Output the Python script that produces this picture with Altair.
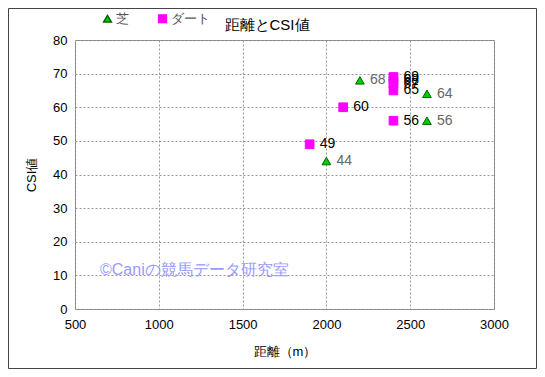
import altair as alt
import pandas as pd

turf_x = [2200, 2600, 2600, 2000]
turf_y = [68, 64, 56, 44]
dirt_x = [2400, 2400, 2400, 2400, 2400, 2100, 1900]
dirt_y = [69, 68, 67, 65, 56, 60, 49]
types = ["芝", "ダート"]

rows = [{"dist": x, "csi": y, "type": "芝"} for x, y in zip(turf_x, turf_y)]
rows += [{"dist": x, "csi": y, "type": "ダート"} for x, y in zip(dirt_x, dirt_y)]
df = pd.DataFrame(rows)

W, H = 419, 269
PL, PT, PR, PB = 67, 32, 43, 60
FONT = "Liberation Sans"

x_enc = alt.X("dist:Q", title="距離（m）",
              scale=alt.Scale(domain=[500, 3000], nice=False, zero=False),
              axis=alt.Axis(values=[500, 1000, 1500, 2000, 2500, 3000], format="d",
                            labelPadding=9, titlePadding=14, labelFlush=False))
y_enc = alt.Y("csi:Q", title="CSI値",
              scale=alt.Scale(domain=[0, 80], nice=False),
              axis=alt.Axis(values=list(range(0, 81, 10)), labelPadding=8,
                            titlePadding=14, labelFlush=False))

points = alt.Chart(df).mark_point(filled=True, size=75, strokeWidth=1, opacity=1).encode(
    x=x_enc, y=y_enc,
    shape=alt.Shape("type:N", scale=alt.Scale(domain=types, range=["triangle-up", "square"]),
                    legend=alt.Legend(title=None, orient="none", legendX=26, legendY=-28,
                                      direction="horizontal", labelFontSize=13,
                                      labelColor="#555555", symbolSize=60,
                                      columnPadding=26, labelOffset=2,
                                      labelFont=FONT, symbolOffset=0)),
    fill=alt.Fill("type:N", scale=alt.Scale(domain=types, range=["#00CC00", "#FF00FF"]),
                  legend=None),
    stroke=alt.Stroke("type:N", scale=alt.Scale(domain=types, range=["#006600", "#FF00FF"]),
                      legend=None),
)

labels = alt.Chart(df).mark_text(align="left", baseline="middle", dx=10, fontSize=14,
                                 font=FONT).encode(
    x=x_enc, y=y_enc, text="csi:Q",
    color=alt.Color("type:N", scale=alt.Scale(domain=types, range=["#666666", "#000000"]),
                    legend=None),
)

title = alt.Chart(pd.DataFrame({"t": ["距離とCSI値"]})).mark_text(
    fontSize=15, font=FONT, color="#000000", align="center", baseline="middle").encode(
    x=alt.value(192), y=alt.value(-15), text="t:N")

wm = alt.Chart(pd.DataFrame({"t": ["©Caniの競馬データ研究室"]})).mark_text(
    fontSize=16, font=FONT, color="#9999FF", align="left", baseline="middle").encode(
    x=alt.value(25), y=alt.value(230), text="t:N")

frame = alt.Chart(pd.DataFrame({"a": [0]})).mark_rect(
    fill=None, stroke="#444444", strokeWidth=1).encode(
    x=alt.value(-PL + 0.5), x2=alt.value(W + PR - 0.5),
    y=alt.value(-PT + 0.5), y2=alt.value(H + PB - 0.5))

chart = alt.layer(frame, points, labels, title, wm).properties(
    width=W, height=H,
    autosize=alt.AutoSizeParams(type="none"),
    padding={"left": PL, "top": PT, "right": PR, "bottom": PB},
    background="white",
).configure_view(stroke="#808080", strokeWidth=1).configure_axis(
    grid=True, gridColor="#999999", gridDash=[2, 2], gridWidth=1,
    domain=False, ticks=False,
    labelFont=FONT, labelFontSize=13, labelColor="#000000",
    titleFont=FONT, titleFontSize=13, titleColor="#000000", titleFontWeight="normal",
)

chart.save("out.html", embed_options={"renderer": "svg", "actions": False})
